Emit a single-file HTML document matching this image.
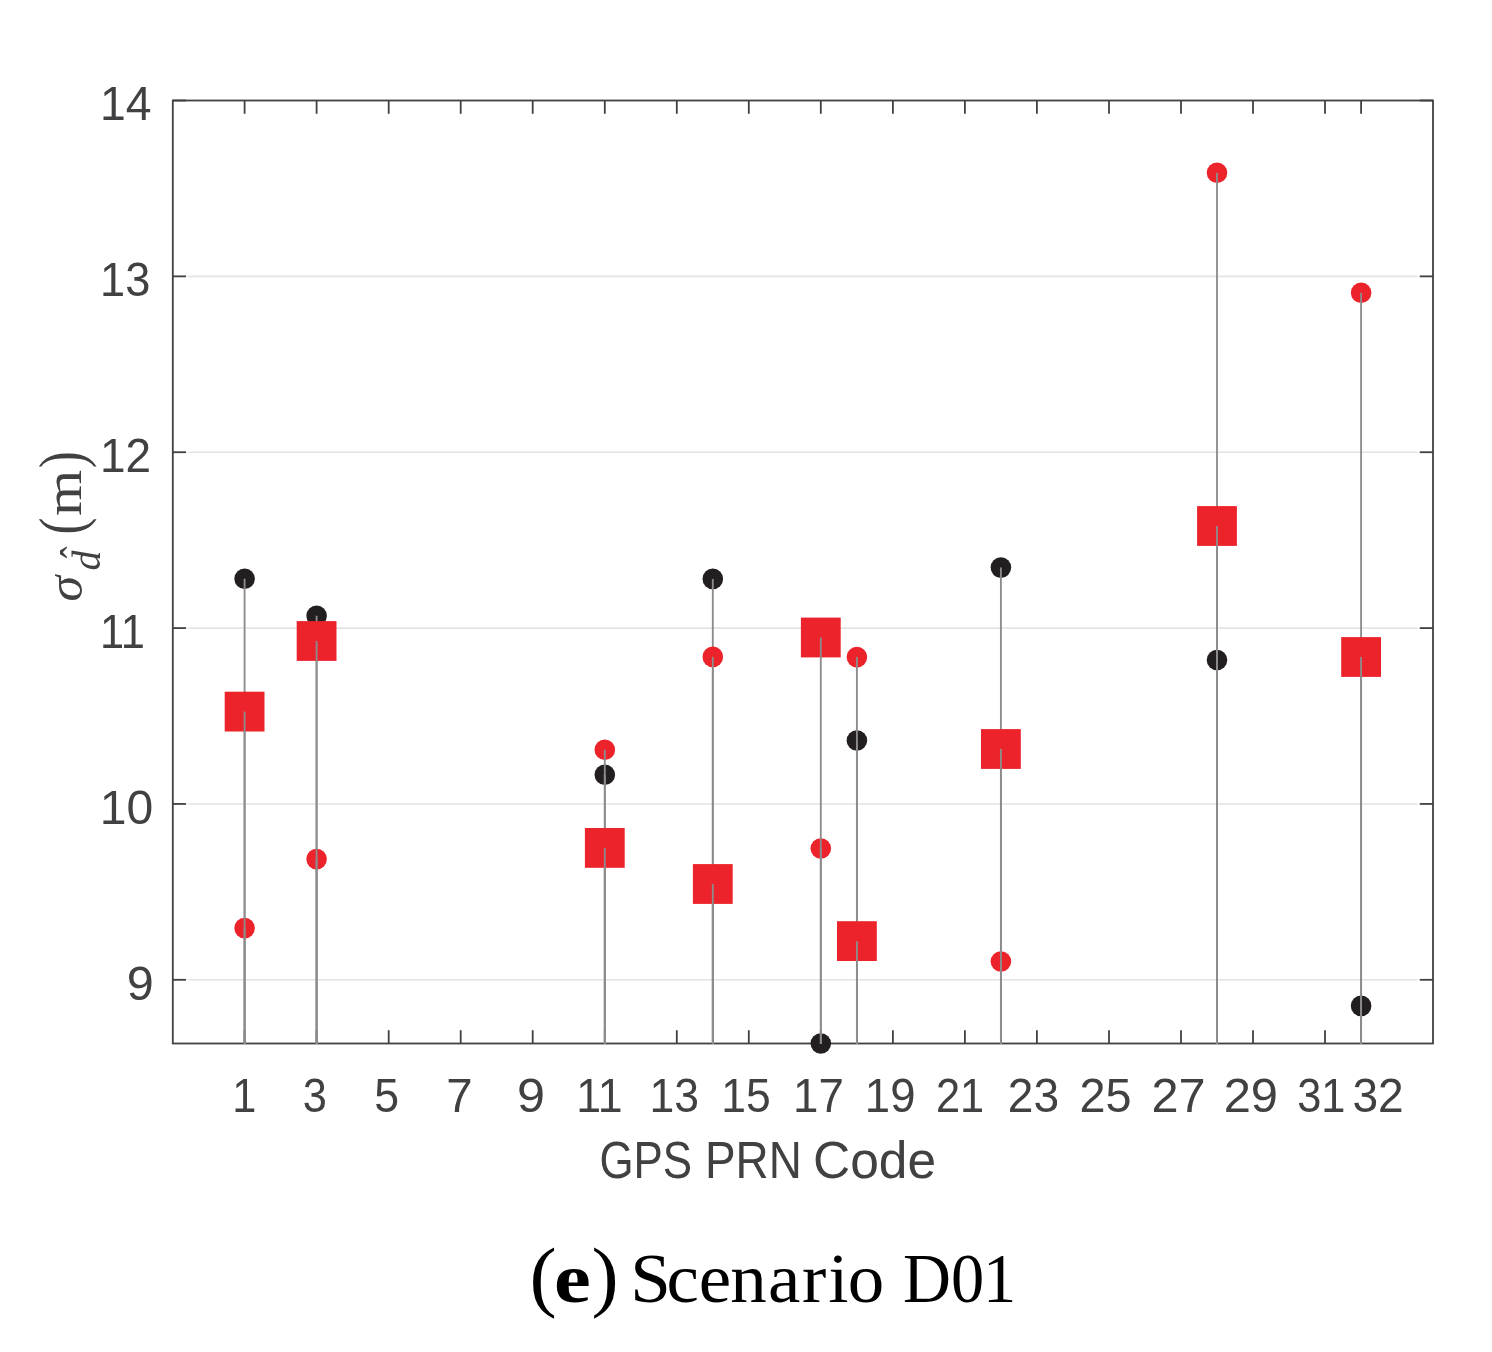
<!DOCTYPE html>
<html lang="en"><head><meta charset="utf-8"><title>Scenario D01</title>
<style>html,body{margin:0;padding:0;background:#fff}body{width:1492px;height:1352px;overflow:hidden}svg{display:block}.t{font-family:"Liberation Sans",sans-serif;fill:#414042}.s{font-family:"Liberation Serif",serif;fill:#414042}.c{font-family:"Liberation Serif",serif;fill:#000}</style></head><body>
<svg width="1492" height="1352" viewBox="0 0 1492 1352">
<rect width="1492" height="1352" fill="#fff"/>
<line x1="188.3" y1="979.80" x2="1417.5" y2="979.80" stroke="#e3e3e3" stroke-width="1.6"/>
<line x1="188.3" y1="803.94" x2="1417.5" y2="803.94" stroke="#e3e3e3" stroke-width="1.6"/>
<line x1="188.3" y1="628.08" x2="1417.5" y2="628.08" stroke="#e3e3e3" stroke-width="1.6"/>
<line x1="188.3" y1="452.22" x2="1417.5" y2="452.22" stroke="#e3e3e3" stroke-width="1.6"/>
<line x1="188.3" y1="276.36" x2="1417.5" y2="276.36" stroke="#e3e3e3" stroke-width="1.6"/>
<rect x="172.8" y="100.5" width="1260.2" height="943.0" fill="none" stroke="#414042" stroke-width="1.8"/>
<line x1="244.6" y1="1043.5" x2="244.6" y2="1030.2" stroke="#414042" stroke-width="1.8"/>
<line x1="244.6" y1="100.5" x2="244.6" y2="113.8" stroke="#414042" stroke-width="1.8"/>
<line x1="316.6" y1="1043.5" x2="316.6" y2="1030.2" stroke="#414042" stroke-width="1.8"/>
<line x1="316.6" y1="100.5" x2="316.6" y2="113.8" stroke="#414042" stroke-width="1.8"/>
<line x1="388.7" y1="1043.5" x2="388.7" y2="1030.2" stroke="#414042" stroke-width="1.8"/>
<line x1="388.7" y1="100.5" x2="388.7" y2="113.8" stroke="#414042" stroke-width="1.8"/>
<line x1="460.7" y1="1043.5" x2="460.7" y2="1030.2" stroke="#414042" stroke-width="1.8"/>
<line x1="460.7" y1="100.5" x2="460.7" y2="113.8" stroke="#414042" stroke-width="1.8"/>
<line x1="532.7" y1="1043.5" x2="532.7" y2="1030.2" stroke="#414042" stroke-width="1.8"/>
<line x1="532.7" y1="100.5" x2="532.7" y2="113.8" stroke="#414042" stroke-width="1.8"/>
<line x1="604.8" y1="1043.5" x2="604.8" y2="1030.2" stroke="#414042" stroke-width="1.8"/>
<line x1="604.8" y1="100.5" x2="604.8" y2="113.8" stroke="#414042" stroke-width="1.8"/>
<line x1="676.8" y1="1043.5" x2="676.8" y2="1030.2" stroke="#414042" stroke-width="1.8"/>
<line x1="676.8" y1="100.5" x2="676.8" y2="113.8" stroke="#414042" stroke-width="1.8"/>
<line x1="748.8" y1="1043.5" x2="748.8" y2="1030.2" stroke="#414042" stroke-width="1.8"/>
<line x1="748.8" y1="100.5" x2="748.8" y2="113.8" stroke="#414042" stroke-width="1.8"/>
<line x1="820.8" y1="1043.5" x2="820.8" y2="1030.2" stroke="#414042" stroke-width="1.8"/>
<line x1="820.8" y1="100.5" x2="820.8" y2="113.8" stroke="#414042" stroke-width="1.8"/>
<line x1="892.9" y1="1043.5" x2="892.9" y2="1030.2" stroke="#414042" stroke-width="1.8"/>
<line x1="892.9" y1="100.5" x2="892.9" y2="113.8" stroke="#414042" stroke-width="1.8"/>
<line x1="964.9" y1="1043.5" x2="964.9" y2="1030.2" stroke="#414042" stroke-width="1.8"/>
<line x1="964.9" y1="100.5" x2="964.9" y2="113.8" stroke="#414042" stroke-width="1.8"/>
<line x1="1036.9" y1="1043.5" x2="1036.9" y2="1030.2" stroke="#414042" stroke-width="1.8"/>
<line x1="1036.9" y1="100.5" x2="1036.9" y2="113.8" stroke="#414042" stroke-width="1.8"/>
<line x1="1109.0" y1="1043.5" x2="1109.0" y2="1030.2" stroke="#414042" stroke-width="1.8"/>
<line x1="1109.0" y1="100.5" x2="1109.0" y2="113.8" stroke="#414042" stroke-width="1.8"/>
<line x1="1181.0" y1="1043.5" x2="1181.0" y2="1030.2" stroke="#414042" stroke-width="1.8"/>
<line x1="1181.0" y1="100.5" x2="1181.0" y2="113.8" stroke="#414042" stroke-width="1.8"/>
<line x1="1253.0" y1="1043.5" x2="1253.0" y2="1030.2" stroke="#414042" stroke-width="1.8"/>
<line x1="1253.0" y1="100.5" x2="1253.0" y2="113.8" stroke="#414042" stroke-width="1.8"/>
<line x1="1325.0" y1="1043.5" x2="1325.0" y2="1030.2" stroke="#414042" stroke-width="1.8"/>
<line x1="1325.0" y1="100.5" x2="1325.0" y2="113.8" stroke="#414042" stroke-width="1.8"/>
<line x1="1361.1" y1="1043.5" x2="1361.1" y2="1030.2" stroke="#414042" stroke-width="1.8"/>
<line x1="1361.1" y1="100.5" x2="1361.1" y2="113.8" stroke="#414042" stroke-width="1.8"/>
<line x1="172.8" y1="979.80" x2="186.1" y2="979.80" stroke="#414042" stroke-width="1.8"/>
<line x1="1433.0" y1="979.80" x2="1419.7" y2="979.80" stroke="#414042" stroke-width="1.8"/>
<line x1="172.8" y1="803.94" x2="186.1" y2="803.94" stroke="#414042" stroke-width="1.8"/>
<line x1="1433.0" y1="803.94" x2="1419.7" y2="803.94" stroke="#414042" stroke-width="1.8"/>
<line x1="172.8" y1="628.08" x2="186.1" y2="628.08" stroke="#414042" stroke-width="1.8"/>
<line x1="1433.0" y1="628.08" x2="1419.7" y2="628.08" stroke="#414042" stroke-width="1.8"/>
<line x1="172.8" y1="452.22" x2="186.1" y2="452.22" stroke="#414042" stroke-width="1.8"/>
<line x1="1433.0" y1="452.22" x2="1419.7" y2="452.22" stroke="#414042" stroke-width="1.8"/>
<line x1="172.8" y1="276.36" x2="186.1" y2="276.36" stroke="#414042" stroke-width="1.8"/>
<line x1="1433.0" y1="276.36" x2="1419.7" y2="276.36" stroke="#414042" stroke-width="1.8"/>
<line x1="172.8" y1="100.50" x2="186.1" y2="100.50" stroke="#414042" stroke-width="1.8"/>
<line x1="1433.0" y1="100.50" x2="1419.7" y2="100.50" stroke="#414042" stroke-width="1.8"/>
<circle cx="244.6" cy="578.8" r="10.3" fill="#231f20"/>
<circle cx="316.6" cy="615.8" r="10.3" fill="#231f20"/>
<circle cx="604.8" cy="774.8" r="10.3" fill="#231f20"/>
<circle cx="712.8" cy="578.9" r="10.3" fill="#231f20"/>
<circle cx="820.8" cy="1043.5" r="10.3" fill="#231f20"/>
<circle cx="856.9" cy="740.5" r="10.3" fill="#231f20"/>
<circle cx="1000.9" cy="567.6" r="10.3" fill="#231f20"/>
<circle cx="1217.0" cy="660.0" r="10.3" fill="#231f20"/>
<circle cx="1361.1" cy="1005.9" r="10.3" fill="#231f20"/>
<line x1="244.6" y1="578.8" x2="244.6" y2="1044.0" stroke="#8c8c8c" stroke-width="1.85"/>
<line x1="316.6" y1="615.8" x2="316.6" y2="1044.0" stroke="#8c8c8c" stroke-width="1.85"/>
<line x1="604.8" y1="774.8" x2="604.8" y2="1044.0" stroke="#8c8c8c" stroke-width="1.85"/>
<line x1="712.8" y1="578.9" x2="712.8" y2="1044.0" stroke="#8c8c8c" stroke-width="1.85"/>
<line x1="820.8" y1="1043.5" x2="820.8" y2="1044.0" stroke="#8c8c8c" stroke-width="1.85"/>
<line x1="856.9" y1="740.5" x2="856.9" y2="1044.0" stroke="#8c8c8c" stroke-width="1.85"/>
<line x1="1000.9" y1="567.6" x2="1000.9" y2="1044.0" stroke="#8c8c8c" stroke-width="1.85"/>
<line x1="1217.0" y1="660.0" x2="1217.0" y2="1044.0" stroke="#8c8c8c" stroke-width="1.85"/>
<line x1="1361.1" y1="1005.9" x2="1361.1" y2="1044.0" stroke="#8c8c8c" stroke-width="1.85"/>
<circle cx="244.6" cy="928.1" r="10.3" fill="#ec232b"/>
<circle cx="316.6" cy="859.1" r="10.3" fill="#ec232b"/>
<circle cx="604.8" cy="749.8" r="10.3" fill="#ec232b"/>
<circle cx="712.8" cy="656.9" r="10.3" fill="#ec232b"/>
<circle cx="820.8" cy="848.5" r="10.3" fill="#ec232b"/>
<circle cx="856.9" cy="657.1" r="10.3" fill="#ec232b"/>
<circle cx="1000.9" cy="961.5" r="10.3" fill="#ec232b"/>
<circle cx="1217.0" cy="172.8" r="10.3" fill="#ec232b"/>
<circle cx="1361.1" cy="292.7" r="10.3" fill="#ec232b"/>
<line x1="244.6" y1="928.1" x2="244.6" y2="1044.0" stroke="#8c8c8c" stroke-width="1.85"/>
<line x1="316.6" y1="859.1" x2="316.6" y2="1044.0" stroke="#8c8c8c" stroke-width="1.85"/>
<line x1="604.8" y1="749.8" x2="604.8" y2="1044.0" stroke="#8c8c8c" stroke-width="1.85"/>
<line x1="712.8" y1="656.9" x2="712.8" y2="1044.0" stroke="#8c8c8c" stroke-width="1.85"/>
<line x1="820.8" y1="848.5" x2="820.8" y2="1044.0" stroke="#8c8c8c" stroke-width="1.85"/>
<line x1="856.9" y1="657.1" x2="856.9" y2="1044.0" stroke="#8c8c8c" stroke-width="1.85"/>
<line x1="1000.9" y1="961.5" x2="1000.9" y2="1044.0" stroke="#8c8c8c" stroke-width="1.85"/>
<line x1="1217.0" y1="172.8" x2="1217.0" y2="1044.0" stroke="#8c8c8c" stroke-width="1.85"/>
<line x1="1361.1" y1="292.7" x2="1361.1" y2="1044.0" stroke="#8c8c8c" stroke-width="1.85"/>
<rect x="224.7" y="691.7" width="39.8" height="39.8" fill="#ec232b"/>
<rect x="296.7" y="621.1" width="39.8" height="39.8" fill="#ec232b"/>
<rect x="584.9" y="828.0" width="39.8" height="39.8" fill="#ec232b"/>
<rect x="692.9" y="864.1" width="39.8" height="39.8" fill="#ec232b"/>
<rect x="800.9" y="617.6" width="39.8" height="39.8" fill="#ec232b"/>
<rect x="837.0" y="921.2" width="39.8" height="39.8" fill="#ec232b"/>
<rect x="981.0" y="729.1" width="39.8" height="39.8" fill="#ec232b"/>
<rect x="1197.1" y="506.1" width="39.8" height="39.8" fill="#ec232b"/>
<rect x="1341.2" y="637.1" width="39.8" height="39.8" fill="#ec232b"/>
<line x1="244.6" y1="711.6" x2="244.6" y2="1044.0" stroke="#8c8c8c" stroke-width="1.85"/>
<line x1="316.6" y1="641.0" x2="316.6" y2="1044.0" stroke="#8c8c8c" stroke-width="1.85"/>
<line x1="604.8" y1="847.9" x2="604.8" y2="1044.0" stroke="#8c8c8c" stroke-width="1.85"/>
<line x1="712.8" y1="884.0" x2="712.8" y2="1044.0" stroke="#8c8c8c" stroke-width="1.85"/>
<line x1="820.8" y1="637.5" x2="820.8" y2="1044.0" stroke="#8c8c8c" stroke-width="1.85"/>
<line x1="856.9" y1="941.1" x2="856.9" y2="1044.0" stroke="#8c8c8c" stroke-width="1.85"/>
<line x1="1000.9" y1="749.0" x2="1000.9" y2="1044.0" stroke="#8c8c8c" stroke-width="1.85"/>
<line x1="1217.0" y1="526.0" x2="1217.0" y2="1044.0" stroke="#8c8c8c" stroke-width="1.85"/>
<line x1="1361.1" y1="657.0" x2="1361.1" y2="1044.0" stroke="#8c8c8c" stroke-width="1.85"/>
<text class="t" transform="translate(232.29,1111.6) scale(0.900,1)" font-size="48.2">1</text>
<text class="t" transform="translate(302.65,1111.6) scale(0.900,1)" font-size="48.2">3</text>
<text class="t" transform="translate(374.31,1111.6) scale(0.926,1)" font-size="48.2">5</text>
<text class="t" transform="translate(446.18,1111.6) scale(0.985,1)" font-size="48.2">7</text>
<text class="t" transform="translate(516.89,1111.6) scale(1.044,1)" font-size="48.2">9</text>
<text class="t" transform="translate(576.31,1111.6) scale(0.926,1)" font-size="48.2">11</text>
<text class="t" transform="translate(649.52,1111.6) scale(0.923,1)" font-size="48.2">13</text>
<text class="t" transform="translate(721.32,1111.6) scale(0.922,1)" font-size="48.2">15</text>
<text class="t" transform="translate(793.03,1111.6) scale(0.947,1)" font-size="48.2">17</text>
<text class="t" transform="translate(864.84,1111.6) scale(0.944,1)" font-size="48.2">19</text>
<text class="t" transform="translate(935.93,1111.6) scale(0.900,1)" font-size="48.2">21</text>
<text class="t" transform="translate(1007.79,1111.6) scale(0.957,1)" font-size="48.2">23</text>
<text class="t" transform="translate(1079.56,1111.6) scale(0.971,1)" font-size="48.2">25</text>
<text class="t" transform="translate(1151.47,1111.6) scale(1.009,1)" font-size="48.2">27</text>
<text class="t" transform="translate(1223.66,1111.6) scale(1.014,1)" font-size="48.2">29</text>
<text class="t" transform="translate(1297.25,1111.6) scale(0.900,1)" font-size="48.2">31</text>
<text class="t" transform="translate(1352.45,1111.6) scale(0.956,1)" font-size="48.2">32</text>
<text class="t" transform="translate(126.76,999.7) scale(1.008,1)" font-size="48.2">9</text>
<text class="t" transform="translate(99.84,823.8) scale(0.998,1)" font-size="48.2">10</text>
<text class="t" transform="translate(99.95,648.0) scale(0.900,1)" font-size="48.2">11</text>
<text class="t" transform="translate(100.01,472.1) scale(0.953,1)" font-size="48.2">12</text>
<text class="t" transform="translate(100.07,296.3) scale(0.936,1)" font-size="48.2">13</text>
<text class="t" transform="translate(99.98,120.4) scale(0.962,1)" font-size="48.2">14</text>
<text class="t" transform="translate(599.41,1178.2) scale(0.844,1)" font-size="52">GPS</text>
<text class="t" transform="translate(704.94,1178.2) scale(0.882,1)" font-size="52">PRN</text>
<text class="t" transform="translate(813.02,1178.2) scale(0.991,1)" font-size="52">Code</text>
<g transform="translate(81,600) rotate(-90)"><text class="s" transform="translate(-1.5,0.5) scale(1.04,1)" font-size="50" font-style="italic">σ</text><text class="s" transform="translate(29.5,18.6) scale(1.0,1)" font-size="40" font-style="italic">d</text><text class="s" transform="translate(41.7,11.5) scale(1.1,1.45)" font-size="32">ˆ</text><text class="s" transform="translate(65.5,2) scale(0.9,1.12)" font-size="56">(</text><text class="s" transform="translate(84,0) scale(1.06,0.96)" font-size="56">m</text><text class="s" transform="translate(132,2) scale(0.9,1.12)" font-size="56">)</text></g>
<text class="c" transform="translate(529.5,1302) scale(1.2,1.15)" font-size="68">(</text>
<text class="c" transform="translate(554,1302) scale(1.2,1)" font-size="69" font-weight="bold">e</text>
<text class="c" transform="translate(591.5,1302) scale(1.2,1.15)" font-size="68">)</text>
<text class="c" transform="translate(628.5,1302) scale(1.058,1)" font-size="69" dx="1.75 -4.11 -0.33 -0.76 1.28 1.37 1.75 -0.71">Scenario</text>
<text class="c" transform="translate(902,1302) scale(0.962,1)" font-size="69" dx="1.04 0.00 -1.04">D01</text>
</svg></body></html>
